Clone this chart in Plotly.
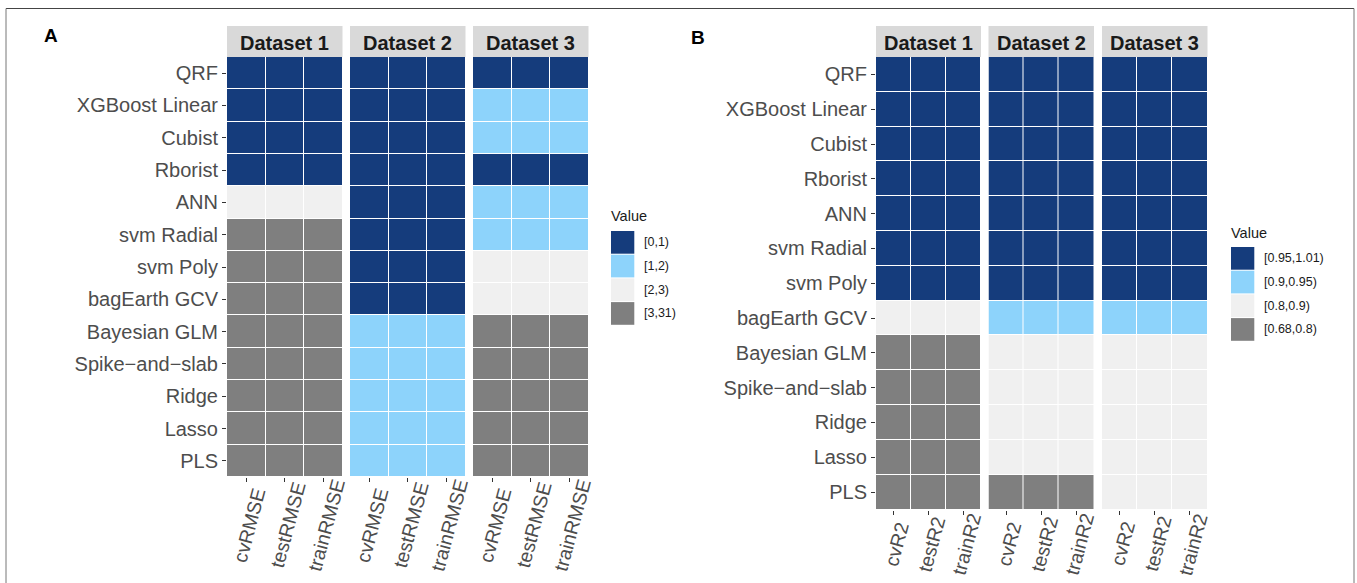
import plotly.graph_objects as go

# ---------------- data ----------------
models = ["QRF", "XGBoost Linear", "Cubist", "Rborist", "ANN", "svm Radial", "svm Poly",
          "bagEarth GCV", "Bayesian GLM", "Spike\u2212and\u2212slab", "Ridge", "Lasso", "PLS"]
datasets = ["Dataset 1", "Dataset 2", "Dataset 3"]
metrics_rmse = ["cvRMSE", "testRMSE", "trainRMSE"]
metrics_r2 = ["cvR2", "testR2", "trainR2"]
bins_rmse = ["[0,1)", "[1,2)", "[2,3)", "[3,31)"]
bins_r2 = ["[0.95,1.01)", "[0.9,0.95)", "[0.8,0.9)", "[0.68,0.8)"]
bin_colors = ["#153c7c", "#8dd3fb", "#f0f0f0", "#7f7f7f"]

# class index per model (rows) x metric (cv, test, train)
rmse_ds1 = [[0, 0, 0], [0, 0, 0], [0, 0, 0], [0, 0, 0], [2, 2, 2], [3, 3, 3], [3, 3, 3],
            [3, 3, 3], [3, 3, 3], [3, 3, 3], [3, 3, 3], [3, 3, 3], [3, 3, 3]]
rmse_ds2 = [[0, 0, 0], [0, 0, 0], [0, 0, 0], [0, 0, 0], [0, 0, 0], [0, 0, 0], [0, 0, 0],
            [0, 0, 0], [1, 1, 1], [1, 1, 1], [1, 1, 1], [1, 1, 1], [1, 1, 1]]
rmse_ds3 = [[0, 0, 0], [1, 1, 1], [1, 1, 1], [0, 0, 0], [1, 1, 1], [1, 1, 1], [2, 2, 2],
            [2, 2, 2], [3, 3, 3], [3, 3, 3], [3, 3, 3], [3, 3, 3], [3, 3, 3]]
r2_ds1 = [[0, 0, 0], [0, 0, 0], [0, 0, 0], [0, 0, 0], [0, 0, 0], [0, 0, 0], [0, 0, 0],
          [2, 2, 2], [3, 3, 3], [3, 3, 3], [3, 3, 3], [3, 3, 3], [3, 3, 3]]
r2_ds2 = [[0, 0, 0], [0, 0, 0], [0, 0, 0], [0, 0, 0], [0, 0, 0], [0, 0, 0], [0, 0, 0],
          [1, 1, 1], [2, 2, 2], [2, 2, 2], [2, 2, 2], [2, 2, 2], [3, 3, 3]]
r2_ds3 = [[0, 0, 0], [0, 0, 0], [0, 0, 0], [0, 0, 0], [0, 0, 0], [0, 0, 0], [0, 0, 0],
          [1, 1, 1], [2, 2, 2], [2, 2, 2], [2, 2, 2], [2, 2, 2], [2, 2, 2]]

# ---------------- layout helpers ----------------
W, H = 1357, 583
FONT = "Liberation Sans, Arial, sans-serif"


def px(x):
    return x / W


def py(y):
    return 1 - y / H


colorscale = []
for i, c in enumerate(bin_colors):
    colorscale.append([i / 4, c])
    colorscale.append([(i + 1) / 4, c])

panels = [
    dict(label="A", label_xy=(51, 36), metrics=metrics_rmse, data=[rmse_ds1, rmse_ds2, rmse_ds3],
         xdom=[(227, 342.5), (350, 465.5), (473, 588.5)], ydom=(57, 477), xlab_y=525,
         bins=bins_rmse, leg_x=611, leg_title_y=216, leg_y0=231),
    dict(label="B", label_xy=(698, 37), metrics=metrics_r2, data=[r2_ds1, r2_ds2, r2_ds3],
         xdom=[(876, 981), (988.5, 1094), (1102, 1207.5)], ydom=(57, 509.5), xlab_y=544,
         bins=bins_r2, leg_x=1231, leg_title_y=233, leg_y0=247),
]

fig = go.Figure()
layout = dict(width=W, height=H, autosize=False, margin=dict(l=0, r=0, t=0, b=0, pad=0),
              paper_bgcolor="white", plot_bgcolor="white",
              font=dict(family=FONT, color="#4d4d4d"), showlegend=False)
shapes, annotations = [], []

k = 0
for p in panels:
    first_k = None
    for d, (ds_name, mat) in enumerate(zip(datasets, p["data"])):
        k += 1
        if first_k is None:
            first_k = k
        xa = "x" if k == 1 else f"x{k}"
        ya = "y" if k == 1 else f"y{k}"
        fig.add_trace(go.Heatmap(
            x=p["metrics"], y=models, z=mat, xaxis=xa, yaxis=ya,
            colorscale=colorscale, zmin=-0.5, zmax=3.5, showscale=False,
            xgap=1, ygap=1, hoverinfo="x+y+z"))
        x0, x1 = p["xdom"][d]
        y_top, y_bot = p["ydom"]
        layout[f"xaxis{'' if k == 1 else k}"] = dict(
            domain=[px(x0), px(x1)], anchor=ya, type="category",
            categoryorder="array", categoryarray=p["metrics"], range=[-0.5, 2.5],
            showgrid=False, zeroline=False, ticks="outside", ticklen=4, tickwidth=1,
            tickcolor="#333333", showticklabels=False, showline=False)
        # rotated, centred x tick labels (as in the ggplot original)
        for m in p["metrics"]:
            annotations.append(dict(text=m, xref=xa, yref="paper", x=m, y=py(p["xlab_y"]),
                                    xanchor="center", yanchor="middle", xshift=3,
                                    textangle=-75, showarrow=False,
                                    font=dict(family=FONT, size=19.5, color="#4d4d4d")))
        yd = dict(domain=[py(y_bot), py(y_top)], anchor=xa, type="category",
                  categoryorder="array", categoryarray=models, range=[12.5, -0.5],
                  showgrid=False, zeroline=False, showline=False)
        if k == first_k:
            yd.update(ticks="outside", ticklen=4, tickwidth=1, tickcolor="#333333",
                      tickfont=dict(family=FONT, size=20, color="#4d4d4d"))
        else:
            yd.update(showticklabels=False, ticks="", matches="y" if first_k == 1 else f"y{first_k}")
        layout[f"yaxis{'' if k == 1 else k}"] = yd
        # facet strip
        shapes.append(dict(type="rect", xref="paper", yref="paper",
                           x0=px(x0), x1=px(x1), y0=py(y_top), y1=py(26),
                           fillcolor="#d9d9d9", line=dict(width=0), layer="below"))
        annotations.append(dict(text=f"<b>{ds_name}</b>", xref="paper", yref="paper",
                                x=px((x0 + x1) / 2), y=py(42.5), xanchor="center", yanchor="middle",
                                showarrow=False, font=dict(family=FONT, size=20, color="#1a1a1a")))
    # panel label
    annotations.append(dict(text=f"<b>{p['label']}</b>", xref="paper", yref="paper",
                            x=px(p["label_xy"][0]), y=py(p["label_xy"][1]),
                            xanchor="center", yanchor="middle", showarrow=False,
                            font=dict(family=FONT, size=19, color="#000000")))
    # legend (key boxes + labels)
    annotations.append(dict(text="Value", xref="paper", yref="paper",
                            x=px(p["leg_x"] - 2), y=py(p["leg_title_y"]),
                            xanchor="left", yanchor="middle", showarrow=False,
                            font=dict(family=FONT, size=14.5, color="#1a1a1a")))
    pitch = 23.7
    for i, (lab, col) in enumerate(zip(p["bins"], bin_colors)):
        ytop = p["leg_y0"] + i * pitch
        shapes.append(dict(type="rect", xref="paper", yref="paper",
                           x0=px(p["leg_x"]), x1=px(p["leg_x"] + 23.3),
                           y0=py(ytop + pitch - 1), y1=py(ytop),
                           fillcolor=col, line=dict(width=0)))
        annotations.append(dict(text=lab, xref="paper", yref="paper",
                                x=px(p["leg_x"] + 31), y=py(ytop + (pitch - 1) / 2),
                                xanchor="left", yanchor="middle", showarrow=False,
                                font=dict(family=FONT, size=12.5, color="#1a1a1a")))

# outer frame (top, left, right edges; bottom edge is outside the picture)
shapes.append(dict(type="line", xref="paper", yref="paper", x0=px(6), x1=px(1354),
                   y0=py(8.5), y1=py(8.5), line=dict(color="#444444", width=1)))
shapes.append(dict(type="line", xref="paper", yref="paper", x0=px(6), x1=px(6),
                   y0=py(8.5), y1=0, line=dict(color="#777777", width=1)))
shapes.append(dict(type="line", xref="paper", yref="paper", x0=px(1354), x1=px(1354),
                   y0=py(8.5), y1=0, line=dict(color="#777777", width=1)))

layout["shapes"] = shapes
layout["annotations"] = annotations
fig.update_layout(**layout)

fig.write_html("out.html",
               config={"displayModeBar": False, "responsive": False},
               post_script="document.body.style.margin='0';"
                           "document.body.style.overflow='hidden';")
